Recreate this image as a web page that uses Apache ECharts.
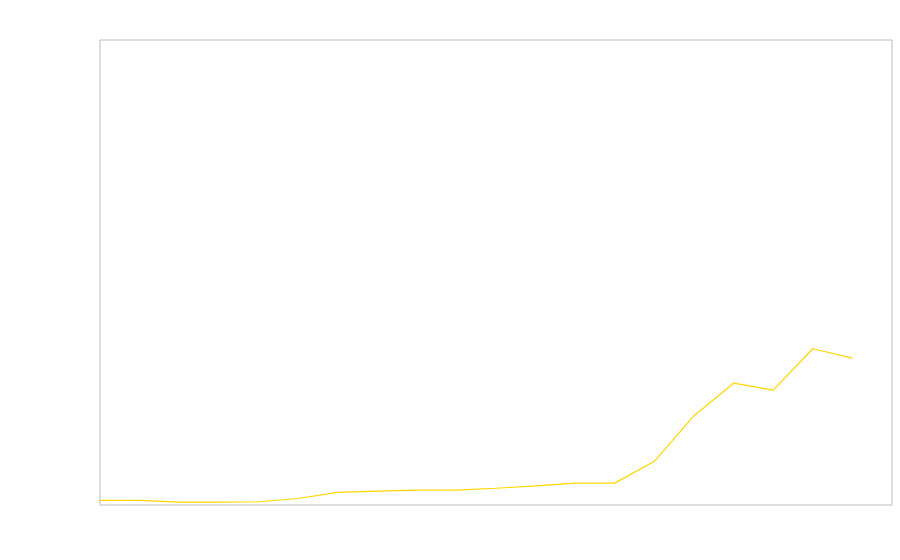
<!DOCTYPE html>
<html>
<head>
<meta charset="utf-8">
<script src="https://cdn.jsdelivr.net/npm/echarts@6/dist/echarts.min.js"></script>
<style>html,body{margin:0;padding:0;background:#fff;}#c{width:900px;height:560px;}</style>
</head>
<body>
<div id="c"></div>
<script>
const categories = ['2000','2001','2002','2003','2004','2005','2006','2007','2008','2009','2010','2011','2012','2013','2014','2015','2016','2017','2018','2019','2020'];
const values = [1.0, 1.0, 0.6, 0.6, 0.7, 1.4, 2.7, 3.0, 3.2, 3.2, 3.6, 4.1, 4.7, 4.7, 9.4, 19.2, 26.2, 24.7, 33.6, 31.6, null];

const chart = echarts.init(document.getElementById('c'));
chart.setOption({
  animation: false,
  grid: { left: 100, top: 40, right: 8, bottom: 55, show: true, borderColor: '#bbbbbb', borderWidth: 1, containLabel: false },
  xAxis: {
    type: 'category', data: categories, boundaryGap: false,
    axisLine: { show: false }, axisTick: { show: false }, axisLabel: { show: false }, splitLine: { show: false }
  },
  yAxis: {
    type: 'value', min: 0, max: 100,
    axisLine: { show: false }, axisTick: { show: false }, axisLabel: { show: false }, splitLine: { show: false }
  },
  series: [{
    type: 'line', data: values, showSymbol: false, symbol: 'none',
    lineStyle: { color: '#FFD700', width: 1.2 }, itemStyle: { color: '#FFD700' }
  }]
});
</script>
</body>
</html>
